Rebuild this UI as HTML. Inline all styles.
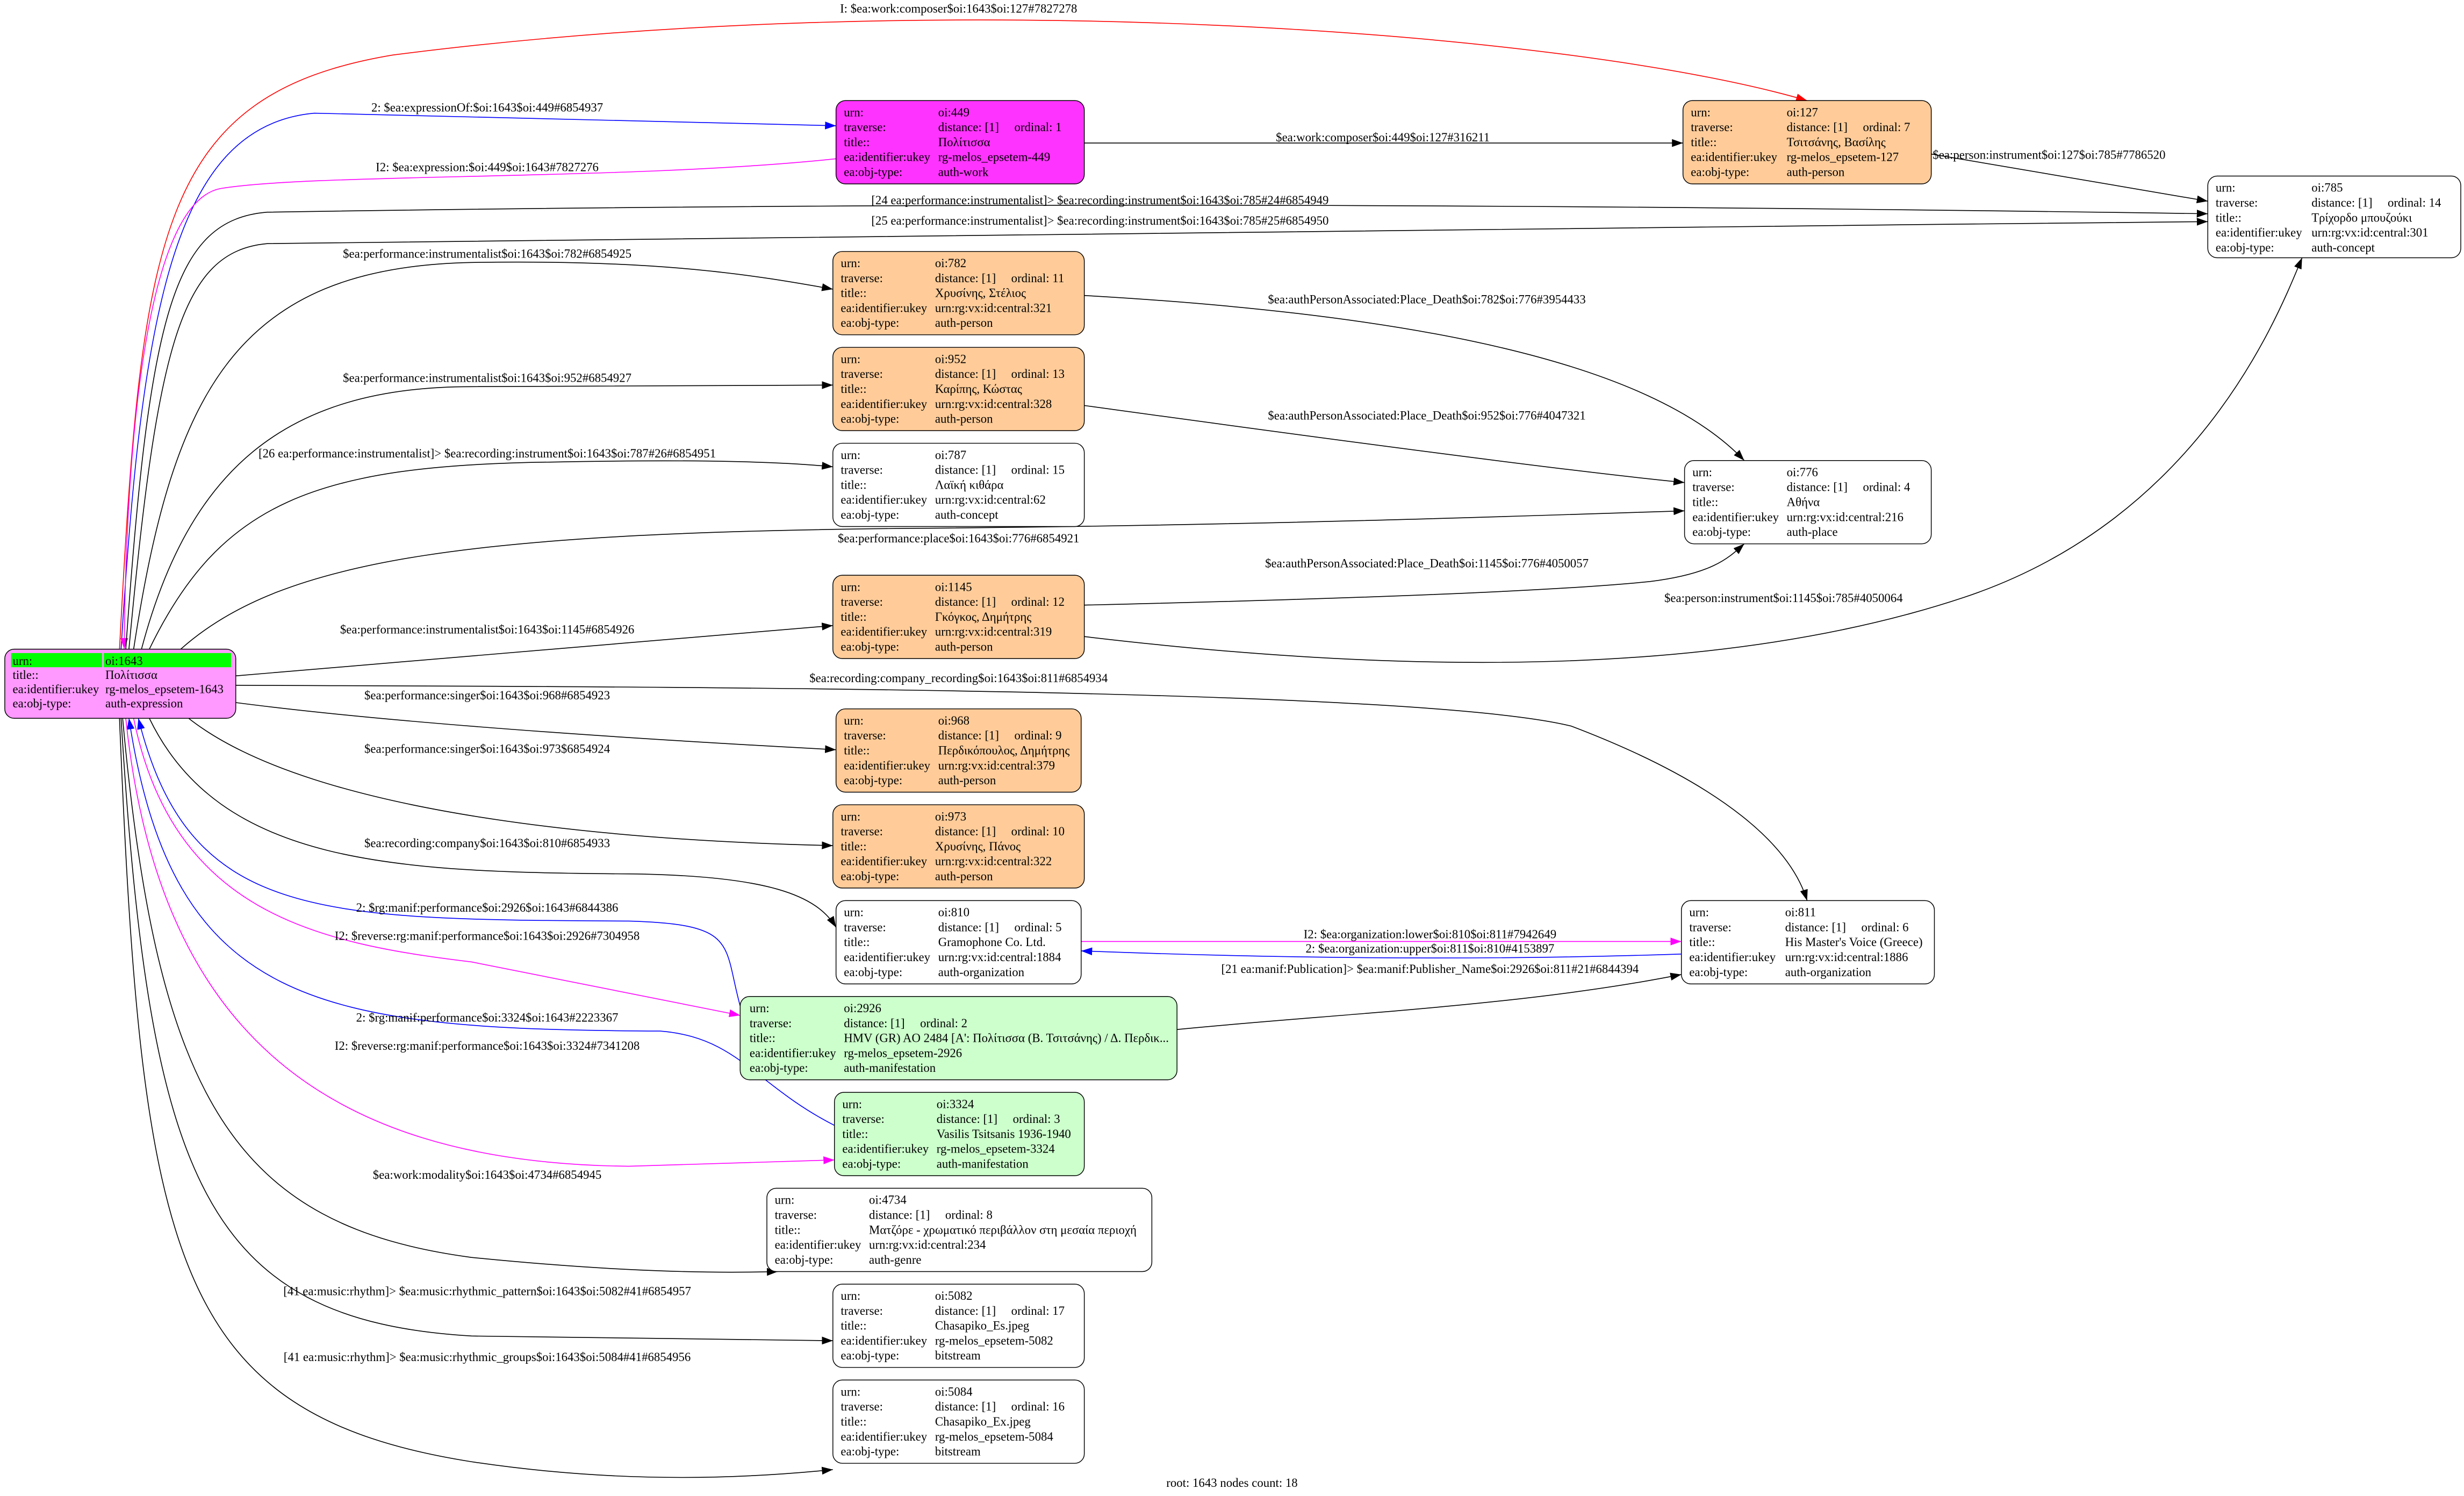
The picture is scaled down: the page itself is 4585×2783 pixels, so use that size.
<!DOCTYPE html>
<html><head><meta charset="utf-8"><style>html,body{margin:0;padding:0;background:#fff}svg{display:block}text{font-family:"Liberation Serif","DejaVu Serif",serif;font-size:7.8px;fill:#000}</style></head><body>
<svg width="4585" height="2783" viewBox="0 0 1568 951.8" xmlns="http://www.w3.org/2000/svg">
<defs>
<marker id="ak" markerUnits="userSpaceOnUse" markerWidth="7" markerHeight="5" refX="7" refY="2.5" orient="auto"><path d="M0,0 L7,2.5 L0,5z" fill="#000"/></marker>
<marker id="ar" markerUnits="userSpaceOnUse" markerWidth="7" markerHeight="5" refX="7" refY="2.5" orient="auto"><path d="M0,0 L7,2.5 L0,5z" fill="#f00"/></marker>
<marker id="ab" markerUnits="userSpaceOnUse" markerWidth="7" markerHeight="5" refX="7" refY="2.5" orient="auto"><path d="M0,0 L7,2.5 L0,5z" fill="#00f"/></marker>
<marker id="am" markerUnits="userSpaceOnUse" markerWidth="7" markerHeight="5" refX="7" refY="2.5" orient="auto"><path d="M0,0 L7,2.5 L0,5z" fill="#f0f"/></marker>
</defs>
<g fill="none" stroke-width="0.55">
<path d="M76,413 C90,150 100,60 250,35 C600,-10 1000,20 1150,64" stroke="#f00" marker-end="url(#ar)"/>
<path d="M77,413 C90,200 110,80 200,72 L532,80" stroke="#00f" marker-end="url(#ab)"/>
<path d="M532,101 C400,115 200,110 140,120 C90,130 80,300 79,413" stroke="#f0f" marker-end="url(#am)"/>
<path d="M690,91 L1071,91" stroke="#000" marker-end="url(#ak)"/>
<path d="M1229,98 L1405,128" stroke="#000" marker-end="url(#ak)"/>
<path d="M80,413 C95,200 110,140 170,135 C600,128 1000,130 1405,136" stroke="#000" marker-end="url(#ak)"/>
<path d="M82,413 C100,220 115,160 170,155 C600,150 1000,145 1405,141" stroke="#000" marker-end="url(#ak)"/>
<path d="M85,413 C110,250 150,170 300,167 C420,165 480,175 530,184" stroke="#000" marker-end="url(#ak)"/>
<path d="M90,413 C120,300 180,246 300,246 L530,245" stroke="#000" marker-end="url(#ak)"/>
<path d="M95,413 C140,320 200,296 350,294 C450,292 500,294 530,297" stroke="#000" marker-end="url(#ak)"/>
<path d="M115,413 C180,355 300,338 600,336 C800,334 950,329 1072,325" stroke="#000" marker-end="url(#ak)"/>
<path d="M150,430 L530,398" stroke="#000" marker-end="url(#ak)"/>
<path d="M150,436 C400,437 900,437 1000,462 C1100,500 1140,540 1150,573" stroke="#000" marker-end="url(#ak)"/>
<path d="M150,447 C250,460 400,470 532,477" stroke="#000" marker-end="url(#ak)"/>
<path d="M120,457 C200,520 400,535 530,538" stroke="#000" marker-end="url(#ak)"/>
<path d="M95,457 C140,550 250,555 400,556 C490,557 520,570 532,590" stroke="#000" marker-end="url(#ak)"/>
<path d="M471,640 C460,600 470,588 400,586 C200,585 120,585 88,457" stroke="#00f" marker-end="url(#ab)"/>
<path d="M85,457 C110,580 200,600 300,612 L471,646" stroke="#f0f" marker-end="url(#am)"/>
<path d="M531,716 C480,690 470,660 420,656 C200,655 110,640 82,457" stroke="#00f" marker-end="url(#ab)"/>
<path d="M80,457 C100,650 200,740 400,742 L531,738" stroke="#f0f" marker-end="url(#am)"/>
<path d="M749,655 C850,645 970,640 1070,620" stroke="#000" marker-end="url(#ak)"/>
<path d="M688,599 L1070,599" stroke="#f0f" marker-end="url(#am)"/>
<path d="M1070,607 C950,611 820,610 688,605" stroke="#00f" marker-end="url(#ab)"/>
<path d="M78,457 C100,700 150,780 300,800 C400,810 460,810 495,809" stroke="#000" marker-end="url(#ak)"/>
<path d="M77,457 C95,750 130,840 300,850 L530,853" stroke="#000" marker-end="url(#ak)"/>
<path d="M76,457 C90,800 110,900 300,930 C400,945 480,940 530,935" stroke="#000" marker-end="url(#ak)"/>
<path d="M690,188 C900,200 1050,230 1110,293" stroke="#000" marker-end="url(#ak)"/>
<path d="M690,258 C850,280 1000,300 1072,307" stroke="#000" marker-end="url(#ak)"/>
<path d="M690,385 C900,380 1000,375 1050,370 C1090,365 1100,355 1110,346" stroke="#000" marker-end="url(#ak)"/>
<path d="M690,405 C900,430 1100,430 1250,380 C1400,330 1450,200 1465,164" stroke="#000" marker-end="url(#ak)"/>
</g>
<g text-anchor="middle">
<text x="610" y="8">I: $ea:work:composer$oi:1643$oi:127#7827278</text>
<text x="310" y="71">2: $ea:expressionOf:$oi:1643$oi:449#6854937</text>
<text x="310" y="109">I2: $ea:expression:$oi:449$oi:1643#7827276</text>
<text x="880" y="90">$ea:work:composer$oi:449$oi:127#316211</text>
<text x="1304" y="101">$ea:person:instrument$oi:127$oi:785#7786520</text>
<text x="700" y="130">[24 ea:performance:instrumentalist]&gt; $ea:recording:instrument$oi:1643$oi:785#24#6854949</text>
<text x="700" y="143">[25 ea:performance:instrumentalist]&gt; $ea:recording:instrument$oi:1643$oi:785#25#6854950</text>
<text x="310" y="164">$ea:performance:instrumentalist$oi:1643$oi:782#6854925</text>
<text x="908" y="193">$ea:authPersonAssociated:Place_Death$oi:782$oi:776#3954433</text>
<text x="310" y="243">$ea:performance:instrumentalist$oi:1643$oi:952#6854927</text>
<text x="908" y="267">$ea:authPersonAssociated:Place_Death$oi:952$oi:776#4047321</text>
<text x="310" y="291">[26 ea:performance:instrumentalist]&gt; $ea:recording:instrument$oi:1643$oi:787#26#6854951</text>
<text x="610" y="345">$ea:performance:place$oi:1643$oi:776#6854921</text>
<text x="908" y="361">$ea:authPersonAssociated:Place_Death$oi:1145$oi:776#4050057</text>
<text x="1135" y="383">$ea:person:instrument$oi:1145$oi:785#4050064</text>
<text x="310" y="403">$ea:performance:instrumentalist$oi:1643$oi:1145#6854926</text>
<text x="610" y="434">$ea:recording:company_recording$oi:1643$oi:811#6854934</text>
<text x="310" y="445">$ea:performance:singer$oi:1643$oi:968#6854923</text>
<text x="310" y="479">$ea:performance:singer$oi:1643$oi:973$6854924</text>
<text x="310" y="539">$ea:recording:company$oi:1643$oi:810#6854933</text>
<text x="310" y="580">2: $rg:manif:performance$oi:2926$oi:1643#6844386</text>
<text x="310" y="598">I2: $reverse:rg:manif:performance$oi:1643$oi:2926#7304958</text>
<text x="910" y="597">I2: $ea:organization:lower$oi:810$oi:811#7942649</text>
<text x="910" y="606">2: $ea:organization:upper$oi:811$oi:810#4153897</text>
<text x="910" y="619">[21 ea:manif:Publication]&gt; $ea:manif:Publisher_Name$oi:2926$oi:811#21#6844394</text>
<text x="310" y="650">2: $rg:manif:performance$oi:3324$oi:1643#2223367</text>
<text x="310" y="668">I2: $reverse:rg:manif:performance$oi:1643$oi:3324#7341208</text>
<text x="310" y="750">$ea:work:modality$oi:1643$oi:4734#6854945</text>
<text x="310" y="824">[41 ea:music:rhythm]&gt; $ea:music:rhythmic_pattern$oi:1643$oi:5082#41#6854957</text>
<text x="310" y="866">[41 ea:music:rhythm]&gt; $ea:music:rhythmic_groups$oi:1643$oi:5084#41#6854956</text>
<text x="784" y="946">root: 1643 nodes count: 18</text>
</g>
<rect x="3" y="413" width="147" height="44" rx="6" fill="#ff99ff" stroke="#000" stroke-width="0.5"/>
<rect x="7" y="415.5" width="58" height="9" fill="#00ff00"/><rect x="66" y="415.5" width="81" height="9" fill="#00ff00"/>
<text x="8" y="423">urn:</text><text x="67" y="423">oi:1643</text>
<text x="8" y="432">title::</text><text x="67" y="432">Πολίτισσα</text>
<text x="8" y="441">ea:identifier:ukey</text><text x="67" y="441">rg-melos_epsetem-1643</text>
<text x="8" y="450">ea:obj-type:</text><text x="67" y="450">auth-expression</text>
<g stroke="#000" stroke-width="0.5">
<rect x="532" y="64" width="158" height="53" rx="6" fill="#ff33ff"/>
<rect x="1071" y="64" width="158" height="53" rx="6" fill="#ffcc99"/>
<rect x="1405" y="112" width="161" height="52" rx="6" fill="#fff"/>
<rect x="530" y="160" width="160" height="53" rx="6" fill="#ffcc99"/>
<rect x="530" y="221" width="160" height="53" rx="6" fill="#ffcc99"/>
<rect x="530" y="282" width="160" height="53" rx="6" fill="#fff"/>
<rect x="1072" y="293" width="157" height="53" rx="6" fill="#fff"/>
<rect x="530" y="366" width="160" height="53" rx="6" fill="#ffcc99"/>
<rect x="532" y="451" width="156" height="53" rx="6" fill="#ffcc99"/>
<rect x="530" y="512" width="160" height="53" rx="6" fill="#ffcc99"/>
<rect x="532" y="573" width="156" height="53" rx="6" fill="#fff"/>
<rect x="1070" y="573" width="161" height="53" rx="6" fill="#fff"/>
<rect x="471" y="634" width="278" height="53" rx="6" fill="#ccffcc"/>
<rect x="531" y="695" width="159" height="53" rx="6" fill="#ccffcc"/>
<rect x="488" y="756" width="245" height="53" rx="6" fill="#fff"/>
<rect x="530" y="817" width="160" height="53" rx="6" fill="#fff"/>
<rect x="530" y="878" width="160" height="53" rx="6" fill="#fff"/>
</g>
<g>
<text x="537" y="74">urn:</text><text x="597" y="74">oi:449</text>
<text x="537" y="83.5">traverse:</text><text x="597" y="83.5">distance: [1]&#160;&#160;&#160;&#160; ordinal: 1</text>
<text x="537" y="93">title::</text><text x="597" y="93">Πολίτισσα</text>
<text x="537" y="102.5">ea:identifier:ukey</text><text x="597" y="102.5">rg-melos_epsetem-449</text>
<text x="537" y="112">ea:obj-type:</text><text x="597" y="112">auth-work</text>

<text x="1076" y="74">urn:</text><text x="1137" y="74">oi:127</text>
<text x="1076" y="83.5">traverse:</text><text x="1137" y="83.5">distance: [1]&#160;&#160;&#160;&#160; ordinal: 7</text>
<text x="1076" y="93">title::</text><text x="1137" y="93">Τσιτσάνης, Βασίλης</text>
<text x="1076" y="102.5">ea:identifier:ukey</text><text x="1137" y="102.5">rg-melos_epsetem-127</text>
<text x="1076" y="112">ea:obj-type:</text><text x="1137" y="112">auth-person</text>

<text x="1410" y="122">urn:</text><text x="1471" y="122">oi:785</text>
<text x="1410" y="131.5">traverse:</text><text x="1471" y="131.5">distance: [1]&#160;&#160;&#160;&#160; ordinal: 14</text>
<text x="1410" y="141">title::</text><text x="1471" y="141">Τρίχορδο μπουζούκι</text>
<text x="1410" y="150.5">ea:identifier:ukey</text><text x="1471" y="150.5">urn:rg:vx:id:central:301</text>
<text x="1410" y="160">ea:obj-type:</text><text x="1471" y="160">auth-concept</text>

<text x="535" y="170">urn:</text><text x="595" y="170">oi:782</text>
<text x="535" y="179.5">traverse:</text><text x="595" y="179.5">distance: [1]&#160;&#160;&#160;&#160; ordinal: 11</text>
<text x="535" y="189">title::</text><text x="595" y="189">Χρυσίνης, Στέλιος</text>
<text x="535" y="198.5">ea:identifier:ukey</text><text x="595" y="198.5">urn:rg:vx:id:central:321</text>
<text x="535" y="208">ea:obj-type:</text><text x="595" y="208">auth-person</text>

<text x="535" y="231">urn:</text><text x="595" y="231">oi:952</text>
<text x="535" y="240.5">traverse:</text><text x="595" y="240.5">distance: [1]&#160;&#160;&#160;&#160; ordinal: 13</text>
<text x="535" y="250">title::</text><text x="595" y="250">Καρίπης, Κώστας</text>
<text x="535" y="259.5">ea:identifier:ukey</text><text x="595" y="259.5">urn:rg:vx:id:central:328</text>
<text x="535" y="269">ea:obj-type:</text><text x="595" y="269">auth-person</text>

<text x="535" y="292">urn:</text><text x="595" y="292">oi:787</text>
<text x="535" y="301.5">traverse:</text><text x="595" y="301.5">distance: [1]&#160;&#160;&#160;&#160; ordinal: 15</text>
<text x="535" y="311">title::</text><text x="595" y="311">Λαϊκή κιθάρα</text>
<text x="535" y="320.5">ea:identifier:ukey</text><text x="595" y="320.5">urn:rg:vx:id:central:62</text>
<text x="535" y="330">ea:obj-type:</text><text x="595" y="330">auth-concept</text>

<text x="1077" y="303">urn:</text><text x="1137" y="303">oi:776</text>
<text x="1077" y="312.5">traverse:</text><text x="1137" y="312.5">distance: [1]&#160;&#160;&#160;&#160; ordinal: 4</text>
<text x="1077" y="322">title::</text><text x="1137" y="322">Αθήνα</text>
<text x="1077" y="331.5">ea:identifier:ukey</text><text x="1137" y="331.5">urn:rg:vx:id:central:216</text>
<text x="1077" y="341">ea:obj-type:</text><text x="1137" y="341">auth-place</text>

<text x="535" y="376">urn:</text><text x="595" y="376">oi:1145</text>
<text x="535" y="385.5">traverse:</text><text x="595" y="385.5">distance: [1]&#160;&#160;&#160;&#160; ordinal: 12</text>
<text x="535" y="395">title::</text><text x="595" y="395">Γκόγκος, Δημήτρης</text>
<text x="535" y="404.5">ea:identifier:ukey</text><text x="595" y="404.5">urn:rg:vx:id:central:319</text>
<text x="535" y="414">ea:obj-type:</text><text x="595" y="414">auth-person</text>

<text x="537" y="461">urn:</text><text x="597" y="461">oi:968</text>
<text x="537" y="470.5">traverse:</text><text x="597" y="470.5">distance: [1]&#160;&#160;&#160;&#160; ordinal: 9</text>
<text x="537" y="480">title::</text><text x="597" y="480">Περδικόπουλος, Δημήτρης</text>
<text x="537" y="489.5">ea:identifier:ukey</text><text x="597" y="489.5">urn:rg:vx:id:central:379</text>
<text x="537" y="499">ea:obj-type:</text><text x="597" y="499">auth-person</text>

<text x="535" y="522">urn:</text><text x="595" y="522">oi:973</text>
<text x="535" y="531.5">traverse:</text><text x="595" y="531.5">distance: [1]&#160;&#160;&#160;&#160; ordinal: 10</text>
<text x="535" y="541">title::</text><text x="595" y="541">Χρυσίνης, Πάνος</text>
<text x="535" y="550.5">ea:identifier:ukey</text><text x="595" y="550.5">urn:rg:vx:id:central:322</text>
<text x="535" y="560">ea:obj-type:</text><text x="595" y="560">auth-person</text>

<text x="537" y="583">urn:</text><text x="597" y="583">oi:810</text>
<text x="537" y="592.5">traverse:</text><text x="597" y="592.5">distance: [1]&#160;&#160;&#160;&#160; ordinal: 5</text>
<text x="537" y="602">title::</text><text x="597" y="602">Gramophone Co. Ltd.</text>
<text x="537" y="611.5">ea:identifier:ukey</text><text x="597" y="611.5">urn:rg:vx:id:central:1884</text>
<text x="537" y="621">ea:obj-type:</text><text x="597" y="621">auth-organization</text>

<text x="1075" y="583">urn:</text><text x="1136" y="583">oi:811</text>
<text x="1075" y="592.5">traverse:</text><text x="1136" y="592.5">distance: [1]&#160;&#160;&#160;&#160; ordinal: 6</text>
<text x="1075" y="602">title::</text><text x="1136" y="602">His Master's Voice (Greece)</text>
<text x="1075" y="611.5">ea:identifier:ukey</text><text x="1136" y="611.5">urn:rg:vx:id:central:1886</text>
<text x="1075" y="621">ea:obj-type:</text><text x="1136" y="621">auth-organization</text>

<text x="477" y="644">urn:</text><text x="537" y="644">oi:2926</text>
<text x="477" y="653.5">traverse:</text><text x="537" y="653.5">distance: [1]&#160;&#160;&#160;&#160; ordinal: 2</text>
<text x="477" y="663">title::</text><text x="537" y="663">HMV (GR) AO 2484 [Α': Πολίτισσα (Β. Τσιτσάνης) / Δ. Περδικ...</text>
<text x="477" y="672.5">ea:identifier:ukey</text><text x="537" y="672.5">rg-melos_epsetem-2926</text>
<text x="477" y="682">ea:obj-type:</text><text x="537" y="682">auth-manifestation</text>

<text x="536" y="705">urn:</text><text x="596" y="705">oi:3324</text>
<text x="536" y="714.5">traverse:</text><text x="596" y="714.5">distance: [1]&#160;&#160;&#160;&#160; ordinal: 3</text>
<text x="536" y="724">title::</text><text x="596" y="724">Vasilis Tsitsanis 1936-1940</text>
<text x="536" y="733.5">ea:identifier:ukey</text><text x="596" y="733.5">rg-melos_epsetem-3324</text>
<text x="536" y="743">ea:obj-type:</text><text x="596" y="743">auth-manifestation</text>

<text x="493" y="766">urn:</text><text x="553" y="766">oi:4734</text>
<text x="493" y="775.5">traverse:</text><text x="553" y="775.5">distance: [1]&#160;&#160;&#160;&#160; ordinal: 8</text>
<text x="493" y="785">title::</text><text x="553" y="785">Ματζόρε - χρωματικό περιβάλλον στη μεσαία περιοχή</text>
<text x="493" y="794.5">ea:identifier:ukey</text><text x="553" y="794.5">urn:rg:vx:id:central:234</text>
<text x="493" y="804">ea:obj-type:</text><text x="553" y="804">auth-genre</text>

<text x="535" y="827">urn:</text><text x="595" y="827">oi:5082</text>
<text x="535" y="836.5">traverse:</text><text x="595" y="836.5">distance: [1]&#160;&#160;&#160;&#160; ordinal: 17</text>
<text x="535" y="846">title::</text><text x="595" y="846">Chasapiko_Es.jpeg</text>
<text x="535" y="855.5">ea:identifier:ukey</text><text x="595" y="855.5">rg-melos_epsetem-5082</text>
<text x="535" y="865">ea:obj-type:</text><text x="595" y="865">bitstream</text>

<text x="535" y="888">urn:</text><text x="595" y="888">oi:5084</text>
<text x="535" y="897.5">traverse:</text><text x="595" y="897.5">distance: [1]&#160;&#160;&#160;&#160; ordinal: 16</text>
<text x="535" y="907">title::</text><text x="595" y="907">Chasapiko_Ex.jpeg</text>
<text x="535" y="916.5">ea:identifier:ukey</text><text x="595" y="916.5">rg-melos_epsetem-5084</text>
<text x="535" y="926">ea:obj-type:</text><text x="595" y="926">bitstream</text>
</g>
</svg>
</body></html>
